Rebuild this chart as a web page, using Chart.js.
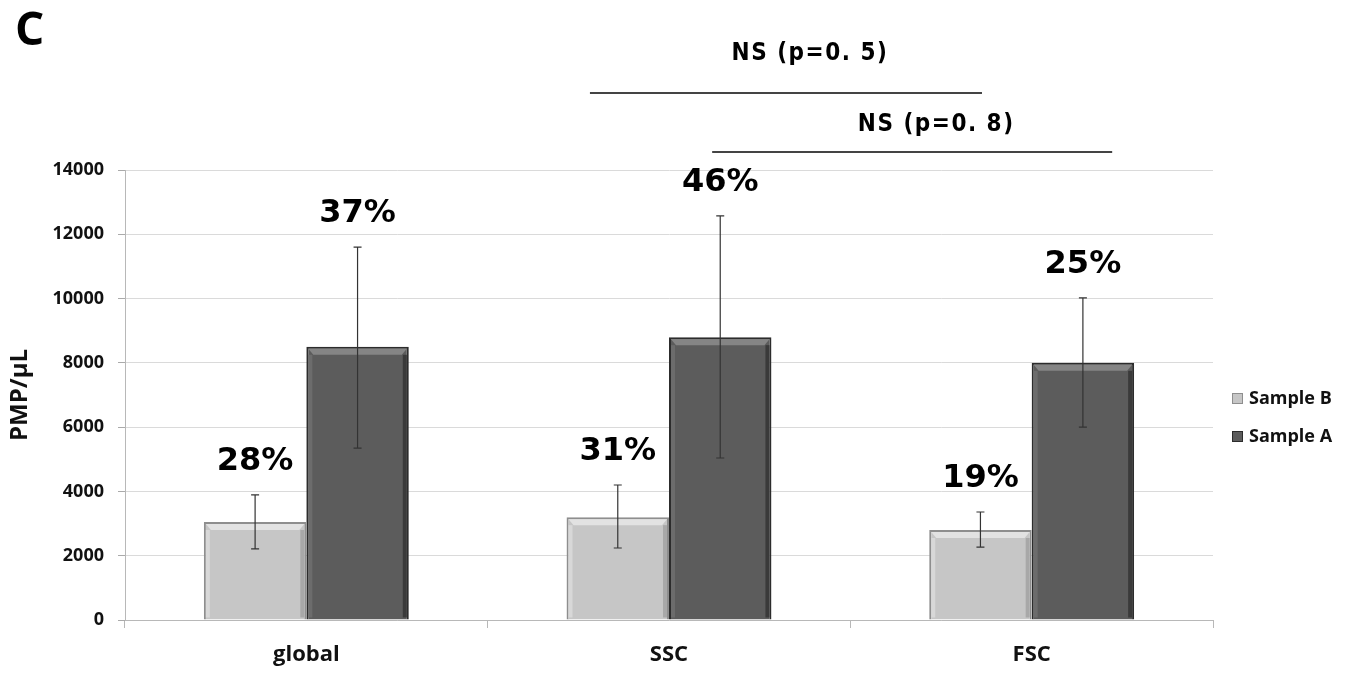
<!DOCTYPE html>
<html>
<head>
<meta charset="utf-8">
<script src="https://cdn.jsdelivr.net/npm/chart.js@4/dist/chart.umd.min.js"></script>
<style>
  body { margin: 0; background: #fff; }
  #wrap { width: 1361px; height: 677px; position: relative; }
</style>
</head>
<body>
<div id="wrap"><canvas id="pmpChart"></canvas></div>
<script>
// data
const categories = ['global', 'SSC', 'FSC'];
const sampleB = [3050, 3200, 2800];
const sampleA = [8500, 8800, 8000];
const sampleBLow = [2210, 2240, 2270];
const sampleBHigh = [3890, 4200, 3360];
const sampleALow = [5350, 5040, 6000];
const sampleAHigh = [11600, 12570, 10020];
const pctB = ['28%', '31%', '19%'];
const pctA = ['37%', '46%', '25%'];
const yMin = 0, yMax = 14000, yStep = 2000;
// significance brackets: [from, to] in category index units
const sigLabels = ['NS (p=0. 5)', 'NS (p=0. 8)'];
const sigSpans = [[0.782, 1.863], [1.119, 2.222]];

const FONT = '"Open Sans", Lato, sans-serif';
const errLow = [sampleBLow, sampleALow];
const errHigh = [sampleBHigh, sampleAHigh];
const pcts = [pctB, pctA];
const bevel = [
  { top: '#e2e2e2', left: '#d8d8d8', right: '#a8a8a8' },
  { top: '#858585', left: '#6c6c6c', right: '#3a3a3a' }
];

// bevel look + error bars + percent labels
const barExtras = {
  id: 'barExtras',
  afterDatasetsDraw(chart) {
    const ctx = chart.ctx;
    const y = chart.scales.y;
    chart.data.datasets.forEach((ds, di) => {
      const meta = chart.getDatasetMeta(di);
      meta.data.forEach((bar, i) => {
        const l = bar.x - bar.width / 2, r = bar.x + bar.width / 2;
        const t = bar.y, b = bar.base;
        ctx.save();
        ctx.fillStyle = bevel[di].top;
        ctx.beginPath();
        ctx.moveTo(l + 2, t + 2); ctx.lineTo(r - 2, t + 2);
        ctx.lineTo(r - 7, t + 8); ctx.lineTo(l + 7, t + 8);
        ctx.closePath(); ctx.fill();
        ctx.fillStyle = bevel[di].left;
        ctx.fillRect(l + 2, t + 8, 4, b - t - 10);
        ctx.fillStyle = bevel[di].right;
        ctx.fillRect(r - 6, t + 8, 4, b - t - 10);
        ctx.restore();

        const yl = y.getPixelForValue(errLow[di][i]);
        const yh = y.getPixelForValue(errHigh[di][i]);
        ctx.save();
        ctx.strokeStyle = '#333';
        ctx.lineWidth = 1.2;
        ctx.beginPath();
        ctx.moveTo(bar.x, yl); ctx.lineTo(bar.x, yh);
        ctx.moveTo(bar.x - 4, yl); ctx.lineTo(bar.x + 4, yl);
        ctx.moveTo(bar.x - 4, yh); ctx.lineTo(bar.x + 4, yh);
        ctx.stroke();
        ctx.fillStyle = '#000';
        ctx.font = 'bold 32px "DejaVu Sans", sans-serif';
        ctx.textAlign = 'center';
        ctx.textBaseline = 'middle';
        ctx.fillText(pcts[di][i], bar.x, yh - 33);
        ctx.restore();
      });
    });
  },
  afterDraw(chart) {
    const ctx = chart.ctx;
    const x = chart.scales.x;
    const area = chart.chartArea;
    const x0 = x.getPixelForValue(0), step = x.getPixelForValue(1) - x0;
    const at = v => x0 + v * step;

    // panel letter
    ctx.save();
    ctx.fillStyle = '#000';
    ctx.font = 'bold 46px ' + FONT;
    ctx.textBaseline = 'middle';
    ctx.fillText('C', 15, 32);

    // significance brackets
    const lineY = [93, 152], textY = [54, 125];
    ctx.strokeStyle = '#444';
    ctx.lineWidth = 2;
    ctx.font = 'bold 24px "DejaVu Sans Condensed", "DejaVu Sans", sans-serif';
    ctx.letterSpacing = '1.5px';
    ctx.textAlign = 'center';
    sigSpans.forEach((s, k) => {
      ctx.beginPath();
      ctx.moveTo(at(s[0]), lineY[k]);
      ctx.lineTo(at(s[1]), lineY[k]);
      ctx.stroke();
      ctx.fillText(sigLabels[k], at((s[0] + s[1]) / 2) + 24, textY[k]);
    });
    ctx.letterSpacing = '0px';

    // legend
    const lx = area.right + 19;
    const ly = (area.top + area.bottom) / 2 + 3;
    ctx.font = 'bold 18px ' + FONT;
    ctx.textAlign = 'left';
    chart.data.datasets.forEach((ds, di) => {
      const yy = ly + di * 38;
      ctx.fillStyle = ds.backgroundColor;
      ctx.fillRect(lx, yy - 5, 11, 11);
      ctx.strokeStyle = ds.borderColor;
      ctx.lineWidth = 1;
      ctx.strokeRect(lx + 0.5, yy - 4.5, 10, 10);
      ctx.fillStyle = '#111';
      ctx.fillText(ds.label, lx + 17, yy + 1);
    });
    ctx.restore();
  }
};

new Chart(document.getElementById('pmpChart'), {
  type: 'bar',
  data: {
    labels: categories,
    datasets: [
      { label: 'Sample B', data: sampleB, backgroundColor: '#c6c6c6', borderColor: '#8e8e8e', borderWidth: 2 },
      { label: 'Sample A', data: sampleA, backgroundColor: '#5c5c5c', borderColor: '#2c2c2c', borderWidth: 2 }
    ]
  },
  options: {
    responsive: true,
    maintainAspectRatio: false,
    animation: false,
    layout: { padding: { top: 170, right: 148, left: 6, bottom: 0 } },
    datasets: { bar: { categoryPercentage: 0.565, barPercentage: 1 } },
    plugins: { legend: { display: false }, tooltip: { enabled: false } },
    scales: {
      x: {
        afterFit: s => { s.height = 57; },
        grid: { drawOnChartArea: false, tickLength: 8, color: '#b8b8b8' },
        border: { color: '#b8b8b8' },
        ticks: { color: '#111', padding: 14, font: { family: FONT, size: 22, weight: 'bold' } }
      },
      y: {
        min: yMin,
        max: yMax,
        afterFit: s => { s.width = 119; },
        ticks: {
          stepSize: yStep, color: '#111', padding: 14,
          font: { family: FONT, size: 18, weight: 'bold' },
          callback: v => String(v)
        },
        grid: { color: '#dadada', tickLength: 7, tickColor: '#aaa' },
        border: { color: '#b8b8b8' },
        title: { display: true, text: 'PMP/µL', color: '#111', padding: { top: 0, bottom: 4 }, font: { family: FONT, size: 24, weight: 'bold' } }
      }
    }
  },
  plugins: [barExtras]
});
</script>
</body>
</html>
